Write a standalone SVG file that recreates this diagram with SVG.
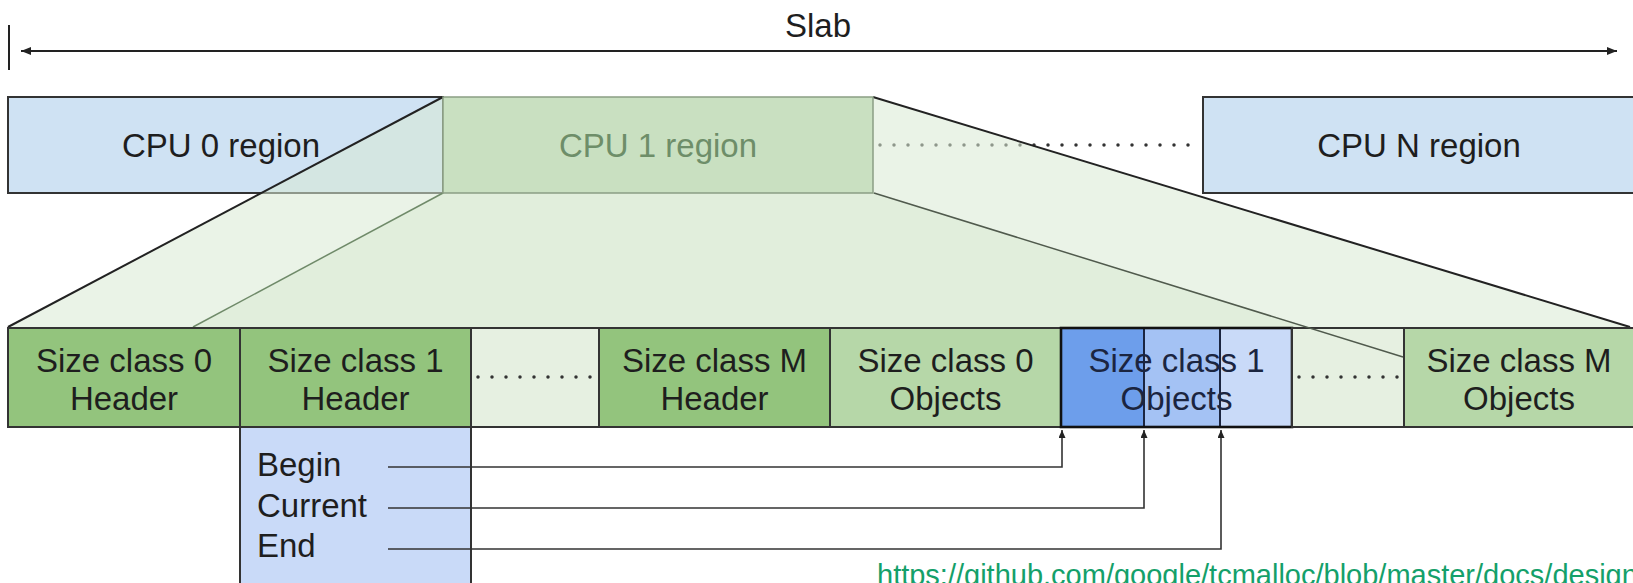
<svg xmlns="http://www.w3.org/2000/svg" width="1633" height="583" viewBox="0 0 1633 583">
  <defs>
    <marker id="ah" viewBox="0 0 10 8" refX="10" refY="4" markerWidth="10" markerHeight="8" markerUnits="userSpaceOnUse" orient="auto-start-reverse">
      <path d="M0,0 L10,4 L0,8 z" fill="#222"/>
    </marker>
    <marker id="ahs" viewBox="0 0 8 7" refX="8" refY="3.5" markerWidth="8" markerHeight="7" markerUnits="userSpaceOnUse" orient="auto">
      <path d="M0,0 L8,3.5 L0,7 z" fill="#222"/>
    </marker>
    <style>
      text { font-family: "Liberation Sans", Arial, sans-serif; font-size: 33px; fill: #1e1e1e; }
      .c { text-anchor: middle; }
      .dark { stroke: #333; stroke-width: 2; }
      .dots { stroke: #333; stroke-width: 3.5; stroke-linecap: round; stroke-dasharray: 0 14; fill: none; }
      .hdr { fill: #93c47d; }
      .obj { fill: #b6d7a8; }
      .gap { fill: #e6f0e1; }
      .overlay { fill: #d9ead3; fill-opacity: 0.55; stroke: none; }
      .wire { fill: none; stroke: #333; stroke-width: 1.6; }
    </style>
  </defs>

  <!-- Slab dimension -->
  <g id="slab">
    <line x1="9" y1="25" x2="9" y2="70" stroke="#222" stroke-width="2"/>
    <line x1="21" y1="51" x2="1617" y2="51" stroke="#222" stroke-width="2" marker-start="url(#ah)" marker-end="url(#ah)"/>
    <text class="c" x="818" y="37">Slab</text>
  </g>

  <!-- CPU regions -->
  <g id="cpu0">
    <rect x="8" y="97" width="435" height="96" fill="#cfe2f3" class="dark"/>
    <text class="c" x="221" y="157">CPU 0 region</text>
  </g>
  <g id="cpuN">
    <rect x="1203" y="97" width="440" height="96" fill="#cfe2f3" class="dark"/>
    <text class="c" x="1419" y="157">CPU N region</text>
  </g>

  <g id="connectors">
    <line class="dots" x1="880" y1="145" x2="1197" y2="145"/>
  </g>

  <!-- projection of CPU 1 region -->
  <g id="projection">
    <polygon class="overlay" points="443,97 873,97 1630,327 8,327"/>
    <polygon class="overlay" points="443,193 874,193 1308,327 193,327"/>
    <line x1="443" y1="193" x2="193" y2="327" stroke="#6f8a69" stroke-width="1.5"/>
    <line x1="443" y1="97" x2="8" y2="327" stroke="#222" stroke-width="2"/>
    <line x1="873" y1="97" x2="1630" y2="327" stroke="#222" stroke-width="2"/>
  </g>

  <g id="cpu1">
    <rect x="443" y="97" width="430" height="96" fill="#c9e0c1" stroke="#8a9e84" stroke-width="1.5"/>
    <text class="c" x="658" y="157" style="fill:#6e8e69">CPU 1 region</text>
  </g>

  <!-- Slab row -->
  <g id="sc0hdr">
    <rect x="8" y="328" width="232" height="99" class="hdr dark"/>
    <text class="c" x="124" y="372">Size class 0</text>
    <text class="c" x="124" y="410">Header</text>
  </g>
  <g id="sc1hdr">
    <rect x="240" y="328" width="231" height="99" class="hdr dark"/>
    <text class="c" x="355.5" y="372">Size class 1</text>
    <text class="c" x="355.5" y="410">Header</text>
  </g>
  <g id="gap1">
    <rect x="471" y="328" width="128" height="99" class="gap dark"/>
    <line class="dots" x1="478" y1="377" x2="594" y2="377"/>
  </g>
  <g id="scMhdr">
    <rect x="599" y="328" width="231" height="99" class="hdr dark"/>
    <text class="c" x="714.5" y="372">Size class M</text>
    <text class="c" x="714.5" y="410">Header</text>
  </g>
  <g id="sc0obj">
    <rect x="830" y="328" width="231" height="99" class="obj dark"/>
    <text class="c" x="945.5" y="372">Size class 0</text>
    <text class="c" x="945.5" y="410">Objects</text>
  </g>
  <g id="sc1obj">
    <rect x="1061" y="328" width="83" height="99" fill="#6d9eeb"/>
    <rect x="1144" y="328" width="76" height="99" fill="#a4c2f4"/>
    <rect x="1220" y="328" width="72" height="99" fill="#c9daf8"/>
    <text class="c" x="1176.5" y="372" style="fill:#1b2540">Size class 1</text>
    <text class="c" x="1176.5" y="410" style="fill:#1b2540">Objects</text>
    <line x1="1144" y1="328" x2="1144" y2="427" stroke="#1b2540" stroke-width="2"/>
    <line x1="1220" y1="328" x2="1220" y2="427" stroke="#1b2540" stroke-width="2"/>
    <rect x="1061" y="328" width="231" height="99" fill="none" stroke="#111" stroke-width="2.6"/>
  </g>
  <g id="gap2">
    <rect x="1292" y="328" width="112" height="99" class="gap dark"/>
    <line class="dots" x1="1299" y1="377" x2="1398" y2="377"/>
  </g>
  <g id="scMobj">
    <rect x="1404" y="328" width="240" height="99" class="obj dark"/>
    <text class="c" x="1519" y="372">Size class M</text>
    <text class="c" x="1519" y="410">Objects</text>
  </g>

  <g id="projection-edge">
    <line x1="874" y1="193" x2="1403" y2="357" stroke="#505a4d" stroke-width="1.5"/>
  </g>

  <!-- header detail -->
  <g id="header-detail">
    <rect x="240" y="427" width="231" height="170" fill="#c9daf8" class="dark"/>
    <text x="257" y="476">Begin</text>
    <text x="257" y="517">Current</text>
    <text x="257" y="557">End</text>
  </g>

  <g id="pointers">
    <path class="wire" d="M388,467 H1062 V430" marker-end="url(#ahs)"/>
    <path class="wire" d="M388,508 H1144 V430" marker-end="url(#ahs)"/>
    <path class="wire" d="M388,549 H1221 V430" marker-end="url(#ahs)"/>
  </g>

  <text x="877" y="585" style="font-size:29px;fill:#14a06a">https://github.com/google/tcmalloc/blob/master/docs/design</text>
</svg>
